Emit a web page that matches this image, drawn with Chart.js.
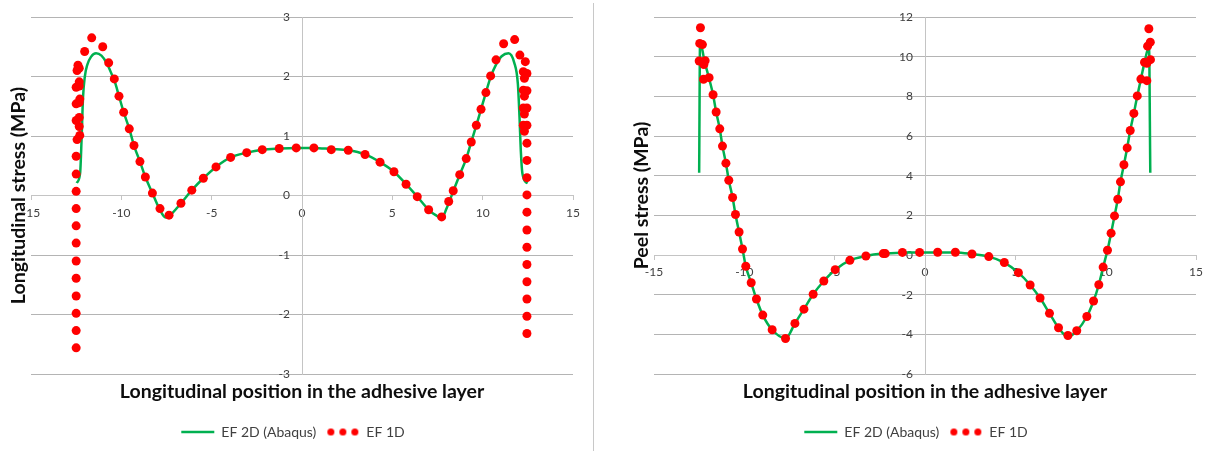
<!DOCTYPE html>
<html>
<head>
<meta charset="utf-8">
<script src="https://cdn.jsdelivr.net/npm/chart.js@4.4.1/dist/chart.umd.min.js"></script>
<style>
  html, body { margin: 0; padding: 0; background: #fff; }
  #wrap { position: relative; width: 1215px; height: 451px; overflow: hidden; }
  .panel { position: absolute; top: 0; height: 451px; }
  #divider { position: absolute; left: 593px; top: 3px; width: 1px; height: 448px; background: #c8c8c8; z-index: 2; }
</style>
</head>
<body>
<div id="wrap">
  <div class="panel" style="left:0;width:594px"><canvas id="longChart" width="594" height="451"></canvas></div>
  <div class="panel" style="left:594px;width:621px"><canvas id="peelChart" width="621" height="451"></canvas></div>
  <div id="divider"></div>
</div>
<script>
// ---- Longitudinal stress (MPa) ----
const longLineX = [-12.47, -12.28, -12.2, -12.12, -12.02, -11.88, -11.68, -11.4, -11.1, -10.8, -10.55, -10.35, -10.13, -9.87, -9.56, -9.3, -8.97, -8.67, -8.28, -7.9, -7.55, -7.3, -6.7, -6.1, -5.46, -4.76, -3.95, -3.06, -2.2, -1.26, -0.32, 0.66, 1.62, 2.56, 3.49, 4.32, 5.09, 5.76, 6.38, 7.01, 7.4, 7.73, 8.0, 8.37, 8.73, 9.09, 9.37, 9.65, 9.91, 10.18, 10.44, 10.74, 11.05, 11.43, 11.75, 11.95, 12.04, 12.11, 12.2, 12.47];
const longLineY = [0.21, 0.38, 0.95, 1.65, 2.0, 2.2, 2.33, 2.39, 2.35, 2.22, 2.05, 1.9, 1.67, 1.40, 1.12, 0.84, 0.57, 0.31, 0.04, -0.22, -0.37, -0.33, -0.13, 0.09, 0.29, 0.48, 0.64, 0.72, 0.77, 0.79, 0.80, 0.80, 0.78, 0.76, 0.69, 0.56, 0.40, 0.19, -0.02, -0.24, -0.33, -0.38, -0.22, 0.07, 0.35, 0.62, 0.90, 1.18, 1.45, 1.73, 1.99, 2.2, 2.34, 2.39, 2.23, 1.87, 1.31, 0.76, 0.37, 0.2];

const longDotsX = [-12.5, -12.5, -12.5, -12.5, -12.5, -12.5, -12.5, -12.5, -12.5, -12.5, -12.5, -12.5,
  -12.45, -12.3, -12.33, -12.5, -12.33, -12.5, -12.33, -12.3, -12.5, -12.33, -12.33, -12.45, -12.33, -12.4,
  -12.03, -11.64, -11.03, -10.7, -10.39, -10.13, -9.87, -9.56, -9.30, -8.97, -8.67, -8.28, -7.86, -7.36, -6.70, -6.10, -5.46, -4.76, -3.95, -3.06, -2.20, -1.26, -0.32,
  0.66, 1.62, 2.56, 3.49, 4.32, 5.09, 5.76, 6.38, 7.01, 7.73, 8.12, 8.37, 8.73, 9.09, 9.37, 9.65, 9.91, 10.18, 10.44, 10.74, 11.16, 11.77, 12.06,
  12.36, 12.25, 12.45, 12.31, 12.25, 12.45, 12.31, 12.25, 12.45, 12.31, 12.25, 12.45, 12.31,
  12.45, 12.45, 12.45, 12.45, 12.45, 12.45, 12.45, 12.45, 12.45, 12.45, 12.45, 12.45];
const longDotsY = [-2.56, -2.27, -1.98, -1.69, -1.39, -1.10, -0.80, -0.51, -0.22, 0.07, 0.36, 0.66,
  0.94, 1.01, 1.16, 1.26, 1.31, 1.54, 1.56, 1.62, 1.82, 1.84, 1.91, 2.10, 2.14, 2.19,
  2.42, 2.65, 2.50, 2.23, 1.96, 1.67, 1.40, 1.12, 0.84, 0.57, 0.31, 0.04, -0.22, -0.33, -0.13, 0.09, 0.29, 0.48, 0.64, 0.72, 0.77, 0.79, 0.80,
  0.80, 0.77, 0.76, 0.69, 0.56, 0.40, 0.19, -0.02, -0.24, -0.36, -0.10, 0.08, 0.35, 0.62, 0.90, 1.18, 1.45, 1.73, 2.01, 2.28, 2.55, 2.62, 2.36,
  2.25, 2.08, 2.05, 1.97, 1.77, 1.76, 1.67, 1.47, 1.47, 1.37, 1.18, 1.18, 1.08,
  0.88, 0.59, 0.30, 0.01, -0.28, -0.58, -0.87, -1.16, -1.45, -1.74, -2.03, -2.32];

// ---- Peel stress (MPa) ----
const peelLineX = [-12.5, -12.45, -12.2, -11.95, -11.73, -11.56, -11.36, -11.21, -11.02, -10.86, -10.65, -10.49, -10.29, -10.10, -9.92, -9.62, -9.33, -8.98, -8.46, -7.72, -7.20, -6.70, -6.19, -5.60, -4.97, -4.16, -3.27, -2.31, -1.24, -0.30, 0.70, 1.68, 2.60, 3.53, 4.39, 5.17, 5.82, 6.37, 6.89, 7.39, 7.91, 8.40, 8.96, 9.33, 9.62, 9.86, 10.10, 10.30, 10.49, 10.67, 10.82, 11.01, 11.19, 11.36, 11.56, 11.75, 11.95, 12.15, 12.4, 12.47];
const peelLineY = [4.15, 10.75, 9.75, 8.9, 8.08, 7.21, 6.36, 5.49, 4.63, 3.77, 2.90, 2.04, 1.16, 0.30, -0.57, -1.40, -2.22, -3.03, -3.77, -4.21, -3.45, -2.73, -1.98, -1.31, -0.74, -0.27, -0.05, 0.07, 0.12, 0.13, 0.13, 0.13, 0.05, -0.08, -0.38, -0.89, -1.51, -2.17, -2.94, -3.67, -4.12, -3.82, -3.10, -2.32, -1.50, -0.61, 0.24, 1.10, 1.97, 2.81, 3.69, 4.55, 5.40, 6.28, 7.14, 8.02, 8.87, 9.7, 10.5, 4.15];

const peelDotsX = [-12.43, -12.47, -12.32, -12.5, -12.17, -12.24, -12.26, -11.95, -11.73, -11.56, -11.36, -11.21, -11.02, -10.86, -10.65, -10.49, -10.29, -10.10, -9.92, -9.62, -9.33, -8.98, -8.46, -7.72, -7.20, -6.70, -6.19, -5.60, -4.97, -4.16, -3.27, -2.31, -2.2, -1.25, -0.30,
  0.70, 1.68, 2.60, 3.53, 4.39, 5.17, 5.82, 6.37, 6.89, 7.39, 7.91, 8.40, 8.96, 9.33, 9.62, 9.86, 10.10, 10.30, 10.49, 10.67, 10.82, 11.01, 11.19, 11.36, 11.56, 11.75, 11.95, 12.28, 12.15, 12.28, 12.48, 12.32, 12.47, 12.39];
const peelDotsY = [11.46, 10.67, 10.61, 9.78, 9.80, 9.60, 8.86, 8.94, 8.08, 7.21, 6.36, 5.49, 4.63, 3.77, 2.90, 2.04, 1.16, 0.30, -0.57, -1.40, -2.22, -3.03, -3.77, -4.21, -3.45, -2.73, -1.98, -1.31, -0.74, -0.27, -0.05, 0.07, 0.07, 0.13, 0.13,
  0.14, 0.14, 0.05, -0.08, -0.38, -0.89, -1.51, -2.17, -2.94, -3.67, -4.06, -3.82, -3.10, -2.32, -1.50, -0.61, 0.24, 1.10, 1.97, 2.81, 3.69, 4.55, 5.40, 6.28, 7.14, 8.02, 8.87, 8.79, 9.72, 9.67, 9.85, 10.53, 10.73, 11.41];

const seriesNames = ['EF 2D (Abaqus)', 'EF 1D'];
const xTitle = 'Longitudinal position in the adhesive layer';

const GREEN = '#00b050';
const RED = '#ff0000';
const GRID = '#b4b4b4';
const AXIS = '#c4c4c4';
const TEXT = '#404040';
const FONT = "Lato, 'Open Sans', 'DejaVu Sans', sans-serif";

Chart.defaults.font.family = FONT;
Chart.defaults.color = TEXT;

const toPoints = (xs, ys) => xs.map((x, i) => ({ x: x, y: ys[i] }));

// Legend marker for the point series: three small dots in a row
const dotsMarker = document.createElement('canvas');
dotsMarker.width = 33; dotsMarker.height = 9;
(function () {
  const c = dotsMarker.getContext('2d');
  c.fillStyle = RED;
  [4.5, 16.5, 28.5].forEach(cx => { c.beginPath(); c.arc(cx, 4.5, 3.5, 0, Math.PI * 2); c.fill(); });
})();

// Value labels of the vertical axis, set just left of the axis line that crosses at x = 0
const zeroAxisLabels = {
  id: 'zeroAxisLabels',
  beforeDatasetsDraw(chart) {
    const xs = chart.scales.x, ys = chart.scales.y, ctx = chart.ctx;
    const x0 = xs.getPixelForValue(0);
    ctx.save();
    ctx.font = '12px ' + FONT;
    ctx.fillStyle = TEXT;
    ctx.textAlign = 'right';
    ctx.textBaseline = 'middle';
    ys.ticks.forEach(t => ctx.fillText(t.label, x0 - 12, ys.getPixelForValue(t.value)));
    ctx.restore();
  }
};

function makeChart(id, line, dots, yMin, yMax, yStep, yTitle, padLeft, padRight) {
  return new Chart(document.getElementById(id), {
    type: 'scatter',
    data: {
      datasets: [
        { label: seriesNames[0], data: line, showLine: true, borderColor: GREEN, backgroundColor: GREEN,
          borderWidth: 2.5, pointRadius: 0, pointHoverRadius: 0, cubicInterpolationMode: 'monotone', order: 1 },
        { label: seriesNames[1], data: dots, showLine: false, pointRadius: 4.5, pointHoverRadius: 4.5,
          pointBackgroundColor: RED, pointBorderWidth: 0, backgroundColor: RED, borderColor: RED, order: 0 }
      ]
    },
    options: {
      responsive: false,
      animation: false,
      devicePixelRatio: 1,
      events: [],
      layout: { padding: { left: padLeft, right: padRight, top: 17, bottom: 2 } },
      scales: {
        x: {
          type: 'linear', position: { y: 0 }, min: -15, max: 15,
          ticks: { stepSize: 5, padding: 6, color: TEXT, font: { size: 12 } },
          grid: { display: true, drawOnChartArea: false, drawTicks: true, tickLength: 4, color: AXIS },
          border: { color: AXIS, width: 1 },
          afterFit(s) { s.height = 0; }
        },
        y: {
          type: 'linear', position: { x: 0 }, min: yMin, max: yMax,
          ticks: { stepSize: yStep, display: false },
          grid: { color: GRID, drawTicks: false },
          border: { color: AXIS, width: 1 },
          afterFit(s) { s.width = 0; }
        },
        xt: {
          axis: 'x', type: 'linear', position: 'bottom', min: -15, max: 15,
          ticks: { display: false }, grid: { display: false, drawTicks: false }, border: { display: false },
          title: { display: true, text: xTitle, color: '#0d0d0d',
                   font: { size: 19.5, weight: 'bold' }, padding: { top: 6.3, bottom: 11.3 } }
        },
        yt: {
          axis: 'y', type: 'linear', position: 'left', min: yMin, max: yMax,
          ticks: { display: false }, grid: { display: false, drawTicks: false }, border: { display: false },
          title: { display: true, text: yTitle, color: '#0d0d0d',
                   font: { size: 19.5, weight: 'bold', lineHeight: '11px' }, padding: { top: 0, bottom: 7 } }
        }
      },
      plugins: {
        tooltip: { enabled: false },
        legend: {
          position: 'bottom',
          labels: {
            usePointStyle: true, pointStyleWidth: 33, padding: 10, color: TEXT, font: { size: 14 },
            sort: (a, b) => a.datasetIndex - b.datasetIndex,
            generateLabels(chart) {
              const items = Chart.defaults.plugins.legend.labels.generateLabels(chart);
              items.forEach(it => {
                if (it.datasetIndex === 0) {
                  it.pointStyle = 'line';
                  it.strokeStyle = GREEN;
                  it.lineWidth = 2.5;
                } else {
                  it.pointStyle = dotsMarker;
                }
              });
              return items;
            }
          }
        }
      }
    },
    plugins: [zeroAxisLabels]
  });
}

makeChart('longChart', toPoints(longLineX, longLineY), toPoints(longDotsX, longDotsY), -3, 3, 1,
          'Longitudinal stress (MPa)', 13, 21);
makeChart('peelChart', toPoints(peelLineX, peelLineY), toPoints(peelDotsX, peelDotsY), -6, 12, 2,
          'Peel stress (MPa)', 42, 19);
</script>
</body>
</html>
